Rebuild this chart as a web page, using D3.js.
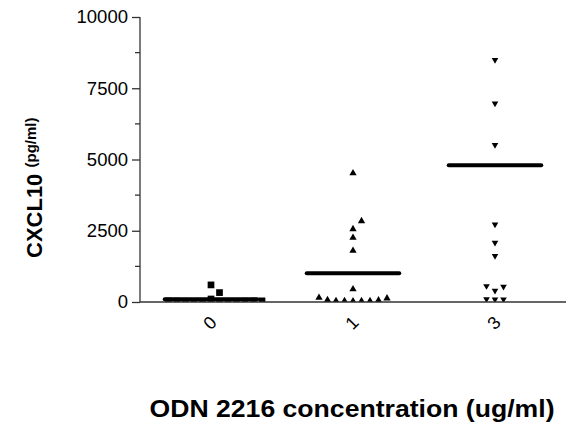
<!DOCTYPE html>
<html>
<head>
<meta charset="utf-8">
<script src="https://cdn.jsdelivr.net/npm/d3@7"></script>
<style>
  body { margin: 0; background: #fff; }
  text { font-family: Arial, "Liberation Sans", sans-serif; fill: #000; }
</style>
</head>
<body>
<div id="chart"></div>
<script>
// ===========Data (CXCL10 pg/ml per ODN 2216 dose, in entry order)
var doses = ["0", "1", "3"];
var dose0 = [105, 10, 15, 18, 20, 22, 25, 28, 30, 32, 35, 40, 330, 600];
var dose1 = [30, 35, 35, 35, 40, 60, 70, 130, 150, 450, 1800, 2260, 2560, 2840, 4520];
var dose3 = [90, 95, 100, 400, 540, 560, 1620, 2080, 2720, 5510, 6970, 8490];
var centerLines = [95, 1005, 4800];
var yTicks = [0, 2500, 5000, 7500, 10000];
var yMinorTicks = [1250, 3750, 6250, 8750];

// ===========Set Height, Width and Margins
var svgWidth = 569;
var svgHeight = 428;
var plot = { left: 140, right: 566, top: 17, bottom: 302 };

var svg = d3.select("#chart").append("svg")
    .attr("width", svgWidth)
    .attr("height", svgHeight);

// ==========Scales
var x = d3.scaleBand()
    .domain(doses)
    .range([plot.left, plot.right])
    .padding(0);

var y = d3.scaleLinear()
    .domain([0, 10000])
    .range([plot.bottom, plot.top]);

// clip points at the x axis like the original plot
svg.append("defs").append("clipPath")
    .attr("id", "plotClip")
  .append("rect")
    .attr("x", plot.left)
    .attr("y", 0)
    .attr("width", svgWidth - plot.left)
    .attr("height", plot.bottom);

// ==========Spread points with similar values side by side (entry order)
var step = 8.5;
var minDist = 8.3;

function swarm(values, cx) {
    var placed = [];
    values.forEach(function(v) {
        var cy = y(v);
        for (var k = 0; k < 60; k++) {
            var off = k === 0 ? 0 : (k % 2 ? 1 : -1) * Math.ceil(k / 2) * step;
            var px = cx + off;
            var hit = placed.some(function(p) {
                return Math.hypot(p.x - px, p.y - cy) < minDist;
            });
            if (!hit) {
                placed.push({ x: px, y: cy, v: v });
                break;
            }
        }
    });
    return placed;
}

var groups = [
    { dose: doses[0], values: dose0, symbol: d3.symbol().type(d3.symbolSquare).size(45), rot: 0 },
    { dose: doses[1], values: dose1, symbol: d3.symbol().type(d3.symbolTriangle).size(23), rot: 0 },
    { dose: doses[2], values: dose3, symbol: d3.symbol().type(d3.symbolTriangle).size(19), rot: 180 }
];

var pointsLayer = svg.append("g").attr("clip-path", "url(#plotClip)");

groups.forEach(function(g, i) {
    var cx = x(g.dose) + x.bandwidth() / 2;
    var pts = swarm(g.values, cx);

    pointsLayer.selectAll(null)
        .data(pts)
        .enter()
        .append("path")
        .attr("d", g.symbol)
        .attr("transform", d => `translate(${d.x},${d.y}) rotate(${g.rot})`)
        .attr("fill", "#000");

    // =========center line
    var half = x.bandwidth() * 0.34 - 2;
    pointsLayer.append("line")
        .attr("x1", cx - half)
        .attr("x2", cx + half)
        .attr("y1", y(centerLines[i]))
        .attr("y2", y(centerLines[i]))
        .attr("stroke", "#000")
        .attr("stroke-width", 4)
        .attr("stroke-linecap", "round");
});

// ==========Y axis
var leftAxis = d3.axisLeft(y)
    .tickValues(yTicks)
    .tickSize(8)
    .tickPadding(4)
    .tickFormat(d3.format("d"));

var yAxis = svg.append("g")
    .attr("transform", `translate(${plot.left},0)`)
    .call(leftAxis);

yAxis.select(".domain").attr("stroke", "#333").attr("stroke-width", 1.3).attr("d", `M0,${plot.top}V${plot.bottom}`);
yAxis.selectAll(".tick line").attr("stroke", "#333").attr("stroke-width", 1.3);
yAxis.selectAll(".tick text")
    .attr("font-size", "18.5px")
    .attr("font-family", "Arial, 'Liberation Sans', sans-serif")
    .attr("fill", "#000");

svg.append("g")
    .selectAll("line")
    .data(yMinorTicks)
    .enter()
    .append("line")
    .attr("x1", plot.left - 5)
    .attr("x2", plot.left)
    .attr("y1", d => y(d))
    .attr("y2", d => y(d))
    .attr("stroke", "#333")
    .attr("stroke-width", 1.3);

// ==========X axis (no tick marks)
svg.append("line")
    .attr("x1", plot.left)
    .attr("x2", plot.right)
    .attr("y1", plot.bottom)
    .attr("y2", plot.bottom)
    .attr("stroke", "#333")
    .attr("stroke-width", 1.3);

svg.append("g")
    .selectAll("text")
    .data(doses)
    .enter()
    .append("text")
    .attr("transform", d => `translate(${x(d) + x.bandwidth() / 2 - 1},323) rotate(-45)`)
    .attr("text-anchor", "middle")
    .attr("dominant-baseline", "central")
    .attr("font-size", "18px")
    .text(d => d);

// ==========Axis titles
svg.append("text")
    .attr("x", 352)
    .attr("y", 417)
    .attr("text-anchor", "middle")
    .attr("font-size", "23px")
    .attr("font-weight", "bold")
    .attr("textLength", 405)
    .attr("lengthAdjust", "spacingAndGlyphs")
    .text("ODN 2216 concentration (ug/ml)");

var yTitle = svg.append("text")
    .attr("transform", "translate(41.5,258) rotate(-90)")
    .attr("text-anchor", "start")
    .attr("font-size", "22px")
    .attr("font-weight", "bold");

yTitle.append("tspan").text("CXCL10 ");
yTitle.append("tspan")
    .attr("font-size", "15px")
    .attr("dy", -5.5)
    .text("(pg/ml)");
</script>
</body>
</html>
